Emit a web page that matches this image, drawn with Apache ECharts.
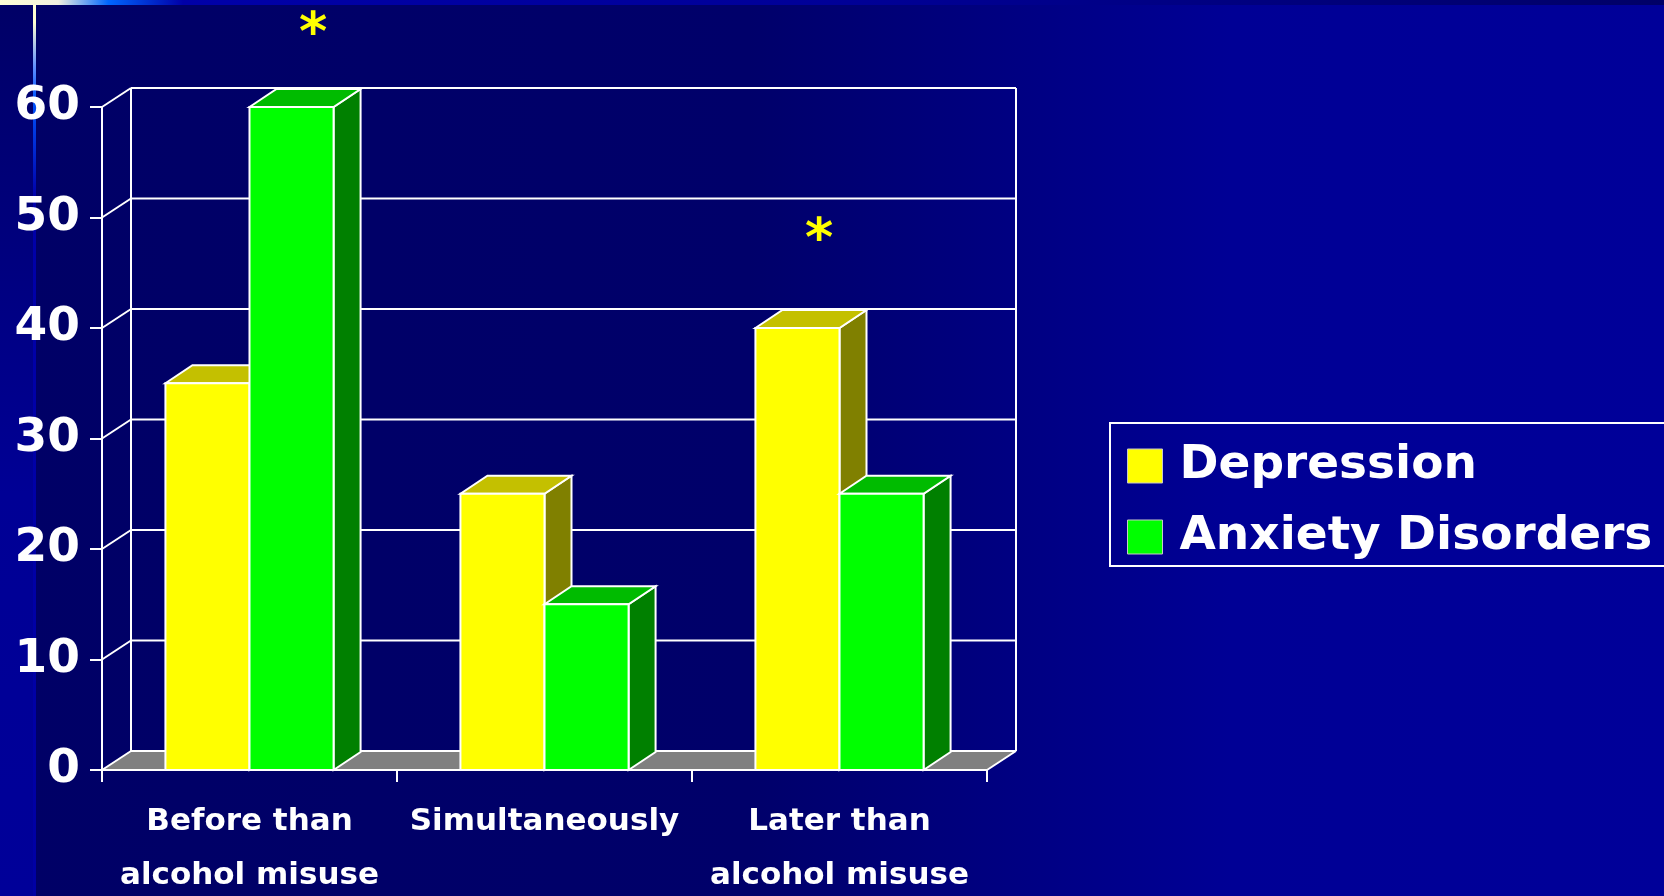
<!DOCTYPE html>
<html>
<head>
<meta charset="utf-8">
<script src="https://cdn.jsdelivr.net/npm/echarts@6/dist/echarts.min.js"></script>
<style>
  html, body { margin: 0; padding: 0; background: #000066; overflow: hidden; }
  #chart { width: 1664px; height: 896px; }
</style>
</head>
<body>
<div id="chart"></div>
<script>
// ---- data ----
const categories = ['Before than\nalcohol misuse', 'Simultaneously', 'Later than\nalcohol misuse'];
const seriesNames = ['Depression', 'Anxiety Disorders'];
const depression = [35, 25, 40];
const anxiety = [60, 15, 25];
const yTicks = [0, 10, 20, 30, 40, 50, 60];
// significance markers: [category index, series index, level on value axis]
const significance = [[0, 1, 67.4], [2, 0, 48.8]];

// ---- style constants ----
const WALL_DX = 29, WALL_DY = 19;
const BAR_DX = 27, BAR_DY = 18;
const BAR_FRAC = 0.285;
const palettes = [
  { front: '#FFFF00', top: '#C4C000', side: '#808000' },
  { front: '#00FF00', top: '#00BB00', side: '#008000' }
];
const FONT = '"DejaVu Sans", Verdana, sans-serif';

const chart = echarts.init(document.getElementById('chart'));

function frameRender(params, api) {
  const cs = params.coordSys;
  const x0 = cs.x, x1 = cs.x + cs.width;
  const y0 = api.coord([0, 0])[1];
  const yMax = api.coord([0, yTicks[yTicks.length - 1]])[1];
  const lineStyle = { stroke: '#FFFFFF', lineWidth: 2, fill: null };
  const children = [];
  children.push({
    type: 'polygon',
    shape: { points: [[x0, y0], [x1, y0], [x1 + WALL_DX, y0 - WALL_DY], [x0 + WALL_DX, y0 - WALL_DY]] },
    style: { fill: '#808080' }
  });
  yTicks.forEach(v => {
    const yv = api.coord([0, v])[1];
    children.push({ type: 'line', shape: { x1: x0 + WALL_DX, y1: yv - WALL_DY, x2: x1 + WALL_DX, y2: yv - WALL_DY }, style: lineStyle });
    children.push({ type: 'line', shape: { x1: x0, y1: yv, x2: x0 + WALL_DX, y2: yv - WALL_DY }, style: lineStyle });
  });
  children.push({ type: 'line', shape: { x1: x0 + WALL_DX, y1: y0 - WALL_DY, x2: x0 + WALL_DX, y2: yMax - WALL_DY }, style: lineStyle });
  children.push({ type: 'line', shape: { x1: x1 + WALL_DX, y1: y0 - WALL_DY, x2: x1 + WALL_DX, y2: yMax - WALL_DY }, style: lineStyle });
  children.push({ type: 'line', shape: { x1: x1, y1: y0, x2: x1 + WALL_DX, y2: y0 - WALL_DY }, style: lineStyle });
  return { type: 'group', children };
}

function barRender(sIdx) {
  return function (params, api) {
    const cat = api.value(0), val = api.value(1);
    const top = api.coord([cat, val]);
    const base = api.coord([cat, 0]);
    const band = api.size([1, 0])[0];
    const bw = band * BAR_FRAC;
    const xa = sIdx === 0 ? top[0] - bw : top[0];
    const xb = xa + bw;
    const yt = top[1], yb = base[1];
    const p = palettes[sIdx];
    const stroke = { stroke: '#FFFFFF', lineWidth: 2, lineJoin: 'miter' };
    return {
      type: 'group',
      children: [
        { type: 'polygon', shape: { points: [[xb, yb], [xb + BAR_DX, yb - BAR_DY], [xb + BAR_DX, yt - BAR_DY], [xb, yt]] },
          style: Object.assign({ fill: p.side }, stroke) },
        { type: 'polygon', shape: { points: [[xa, yt], [xa + BAR_DX, yt - BAR_DY], [xb + BAR_DX, yt - BAR_DY], [xb, yt]] },
          style: Object.assign({ fill: p.top }, stroke) },
        { type: 'rect', shape: { x: xa, y: yt, width: bw, height: yb - yt },
          style: Object.assign({ fill: p.front }, stroke) }
      ]
    };
  };
}

function starRender(params, api) {
  const cat = api.value(0), sIdx = api.value(1), level = api.value(2);
  const c = api.coord([cat, level]);
  const band = api.size([1, 0])[0];
  const bw = band * BAR_FRAC;
  const cx = c[0] + (sIdx === 0 ? -bw / 2 : bw / 2) + BAR_DX * 0.8;
  const fs = 54;
  return {
    type: 'text',
    x: cx, y: c[1] + fs * 0.2,
    style: { text: '*', fill: '#FFFF00', font: 'bold ' + fs + 'px ' + FONT, align: 'center', verticalAlign: 'middle' }
  };
}

const option = {
  backgroundColor: 'transparent',
  animation: false,
  graphic: [
    { type: 'rect', z: -100, shape: { x: 0, y: 0, width: 1664, height: 896 },
      style: { fill: { type: 'linear', x: 0, y: 0, x2: 1, y2: 0, colorStops: [
        { offset: 0, color: '#000066' }, { offset: 0.45, color: '#00006A' },
        { offset: 0.74, color: '#000095' }, { offset: 1, color: '#000099' }] } } },
    { type: 'rect', z: -99, shape: { x: 0, y: 0, width: 34, height: 896 },
      style: { fill: { type: 'linear', x: 0, y: 0, x2: 0, y2: 1, colorStops: [
        { offset: 0, color: '#000066' }, { offset: 0.55, color: '#000095' }, { offset: 1, color: '#000099' }] } } },
    { type: 'rect', z: -98, shape: { x: 33, y: 0, width: 3, height: 896 },
      style: { fill: { type: 'linear', x: 0, y: 0, x2: 0, y2: 1, colorStops: [
        { offset: 0, color: '#FFFFD5' }, { offset: 0.025, color: '#FFFFD0' },
        { offset: 0.075, color: '#5F8FFF' }, { offset: 0.11, color: '#0055FF' },
        { offset: 0.22, color: '#0000A8' }, { offset: 1, color: '#0000A4' }] } } },
    { type: 'rect', z: -97, shape: { x: 0, y: 0, width: 1664, height: 5 },
      style: { fill: { type: 'linear', x: 0, y: 0, x2: 1, y2: 0, colorStops: [
        { offset: 0, color: '#FFFFD5' }, { offset: 0.035, color: '#F0F0E0' },
        { offset: 0.065, color: '#0066FF' }, { offset: 0.11, color: '#0000A8' },
        { offset: 0.5, color: '#000098' }, { offset: 1, color: '#000066' }] } } }
  ],
  grid: { left: 102, right: 677, top: 107, bottom: 126, containLabel: false, outerBoundsMode: 'none' },
  legend: {
    data: seriesNames,
    orient: 'vertical',
    left: 1110, top: 423,
    padding: [15, 40, 1, 17],
    itemGap: 15,
    itemWidth: 35, itemHeight: 34,
    icon: 'rect',
    borderColor: '#FFFFFF', borderWidth: 2,
    itemStyle: { borderColor: '#C8C8C8', borderWidth: 1 },
    textStyle: { color: '#FFFFFF', fontSize: 47, fontWeight: 'bold', fontFamily: FONT, lineHeight: 56, padding: [0, 0, 0, 12] }
  },
  xAxis: {
    type: 'category',
    data: categories,
    z: 10,
    axisLine: { show: true, lineStyle: { color: '#FFFFFF', width: 2 } },
    axisTick: { show: true, length: 12, lineStyle: { color: '#FFFFFF', width: 2 } },
    axisLabel: { color: '#FFFFFF', fontSize: 31, fontWeight: 'bold', fontFamily: FONT, lineHeight: 54, margin: 25, interval: 0, hideOverlap: false },
    splitLine: { show: false }
  },
  yAxis: {
    type: 'value',
    min: 0, max: 60, interval: 10,
    z: 10,
    axisLine: { show: true, lineStyle: { color: '#FFFFFF', width: 2 } },
    axisTick: { show: true, length: 12, lineStyle: { color: '#FFFFFF', width: 2 } },
    axisLabel: { color: '#FFFFFF', fontSize: 47, fontWeight: 'bold', fontFamily: FONT, margin: 22, padding: [6, 0, 0, 0] },
    splitLine: { show: false }
  },
  series: [
    { type: 'custom', name: 'frame', z: 1, renderItem: frameRender, data: [[0, 0]], silent: true },
    { type: 'custom', name: seriesNames[0], z: 2, itemStyle: { color: palettes[0].front },
      renderItem: barRender(0), data: depression.map((v, i) => [i, v]), encode: { x: 0, y: 1 } },
    { type: 'custom', name: seriesNames[1], z: 3, itemStyle: { color: palettes[1].front },
      renderItem: barRender(1), data: anxiety.map((v, i) => [i, v]), encode: { x: 0, y: 1 } },
    { type: 'custom', name: 'significance', z: 4, renderItem: starRender, data: significance,
      encode: { x: 0, y: 2 }, silent: true }
  ]
};
chart.setOption(option);
</script>
</body>
</html>
